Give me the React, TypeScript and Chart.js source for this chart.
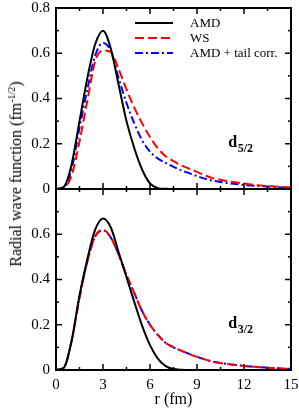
import React, { useEffect, useRef } from 'react';
import { Chart, registerables } from 'chart.js';

Chart.register(...registerables);

// radius grid (fm)
const rValues = [0, 0.5, 1, 1.5, 2, 2.5, 3, 3.5, 4, 4.5, 5, 5.5, 6, 6.5, 7, 7.5, 8, 8.5, 9, 9.5, 10, 10.5, 11, 11.5, 12, 12.5, 13, 13.5, 14, 14.5, 15];

// d5/2 panel
const d52AMD = [0, 0.01, 0.11, 0.30, 0.49, 0.64, 0.70, 0.62, 0.46, 0.30, 0.18, 0.085, 0.025, 0.004, 0.001, 0, 0, 0, 0, 0, 0, 0, 0, 0, 0, 0, 0, 0, 0, 0, 0];
const d52WS = [0, 0.005, 0.06, 0.21, 0.39, 0.565, 0.612, 0.605, 0.53, 0.44, 0.36, 0.29, 0.23, 0.18, 0.145, 0.123, 0.104, 0.09, 0.076, 0.061, 0.048, 0.041, 0.034, 0.029, 0.024, 0.02, 0.016, 0.013, 0.011, 0.009, 0.007];
const d52Tail = [0, 0.005, 0.09, 0.27, 0.44, 0.59, 0.645, 0.61, 0.49, 0.38, 0.29, 0.215, 0.165, 0.135, 0.115, 0.098, 0.082, 0.07, 0.057, 0.046, 0.037, 0.031, 0.026, 0.022, 0.018, 0.015, 0.013, 0.011, 0.009, 0.007, 0.006];

// d3/2 panel
const d32AMD = [0, 0.01, 0.13, 0.33, 0.49, 0.62, 0.67, 0.63, 0.52, 0.41, 0.30, 0.195, 0.11, 0.05, 0.017, 0.004, 0.001, 0, 0, 0, 0, 0, 0, 0, 0, 0, 0, 0, 0, 0, 0];
const d32WS = [0, 0.01, 0.13, 0.32, 0.48, 0.59, 0.62, 0.585, 0.51, 0.42, 0.34, 0.26, 0.20, 0.155, 0.12, 0.10, 0.085, 0.071, 0.058, 0.047, 0.037, 0.031, 0.026, 0.022, 0.018, 0.015, 0.012, 0.01, 0.008, 0.006, 0.005];
const d32Tail = [0, 0.01, 0.13, 0.32, 0.48, 0.59, 0.617, 0.585, 0.51, 0.42, 0.34, 0.26, 0.20, 0.155, 0.12, 0.10, 0.085, 0.071, 0.058, 0.047, 0.037, 0.031, 0.026, 0.022, 0.018, 0.015, 0.012, 0.01, 0.008, 0.006, 0.005];

const seriesNames = ['AMD', 'WS', 'AMD + tail corr.'];
const panelNames = [['d', '5/2'], ['d', '3/2']];
const xTicks = [0, 3, 6, 9, 12, 15];
const yTicks = [0, 0.2, 0.4, 0.6, 0.8];
const xTitle = 'r (fm)';

const SERIF = "'Liberation Serif', 'Times New Roman', serif";
const styles = [
  { color: '#000000', dash: [] as number[] },
  { color: '#ff0000', dash: [9, 4] },
  { color: '#0000ff', dash: [8, 3, 2, 3] },
];

const toPts = (vals: number[]) => vals.map((v, i) => ({ x: rValues[i], y: v }));

function makeDatasets(series: number[][]) {
  return series.map((vals, i) => ({
    label: seriesNames[i],
    data: toPts(vals),
    borderColor: styles[i].color,
    borderDash: styles[i].dash,
    borderWidth: 2,
    pointRadius: 0,
    fill: false,
    cubicInterpolationMode: 'monotone' as const,
  }));
}

function decorPlugin(opts: { legend: boolean; panel: string[]; xTitle: boolean }) {
  return {
    id: 'decor',
    afterDatasetsDraw(chart: any) {
      const { ctx, chartArea: a, scales } = chart;
      const xs = scales.x;
      const ys = scales.y;
      const seg = (x1: number, y1: number, x2: number, y2: number) => {
        ctx.beginPath();
        ctx.moveTo(x1, y1);
        ctx.lineTo(x2, y2);
        ctx.stroke();
      };
      ctx.save();
      ctx.strokeStyle = '#000';
      ctx.setLineDash([]);
      ctx.lineWidth = 1.5;
      for (let k = 0; k <= 10; k++) {
        const v = k * 1.5;
        const px = xs.getPixelForValue(v);
        const len = k % 2 === 0 ? 6 : 3;
        seg(px, a.bottom, px, a.bottom - len);
        seg(px, a.top, px, a.top + len);
      }
      for (let k = 0; k <= 8; k++) {
        const v = k * 0.1;
        const py = ys.getPixelForValue(v);
        const len = k % 2 === 0 ? 6 : 3;
        seg(a.left, py, a.left + len, py);
        seg(a.right, py, a.right - len, py);
      }
      ctx.lineWidth = 2;
      ctx.strokeRect(a.left, a.top, a.right - a.left, a.bottom - a.top);

      // panel label
      ctx.fillStyle = '#000';
      ctx.textBaseline = 'alphabetic';
      ctx.textAlign = 'left';
      const lx = xs.getPixelForValue(11);
      const ly = ys.getPixelForValue(0.185);
      ctx.font = `bold 16px ${SERIF}`;
      ctx.fillText(opts.panel[0], lx, ly);
      const dw = ctx.measureText(opts.panel[0]).width;
      ctx.font = `bold 12px ${SERIF}`;
      ctx.fillText(opts.panel[1], lx + dw + 0.5, ly + 5);

      if (opts.legend) {
        ctx.font = `13px ${SERIF}`;
        ctx.textBaseline = 'middle';
        chart.data.datasets.forEach((ds: any, i: number) => {
          const yy = a.top + 15 + i * 15;
          ctx.strokeStyle = ds.borderColor;
          ctx.lineWidth = 2;
          ctx.setLineDash(ds.borderDash);
          seg(a.left + 79, yy, a.left + 117, yy);
          ctx.setLineDash([]);
          ctx.fillStyle = '#000';
          ctx.fillText(ds.label, a.left + 134, yy + 0.5);
        });
      }
      if (opts.xTitle) {
        ctx.font = `16px ${SERIF}`;
        ctx.textAlign = 'center';
        ctx.textBaseline = 'middle';
        ctx.fillStyle = '#000';
        ctx.fillText(xTitle, (a.left + a.right) / 2, a.bottom + 30);
      }
      ctx.restore();
    },
  };
}

const fmt = (v: number) => (Math.abs(v) < 1e-9 ? '0' : v.toFixed(1));

const zeroPad = (s: any) => {
  s.paddingTop = 0;
  s.paddingBottom = 0;
  s.paddingLeft = 0;
  s.paddingRight = 0;
};

function Panel(props: { series: number[][]; top: number; height: number; padTop: number; padBottom: number; bottom: boolean; panel: string[]; legend: boolean }) {
  const ref = useRef<HTMLCanvasElement | null>(null);
  useEffect(() => {
    if (!ref.current) return;
    const chart = new Chart(ref.current, {
      type: 'line',
      data: { datasets: makeDatasets(props.series) as any },
      options: {
        animation: false,
        responsive: false,
        devicePixelRatio: 1,
        layout: { padding: { left: 0, right: 8, top: props.padTop, bottom: props.padBottom } },
        plugins: { legend: { display: false }, tooltip: { enabled: false } },
        scales: {
          x: {
            type: 'linear',
            min: 0,
            max: 15,
            display: props.bottom,
            afterFit: (s: any) => { s.height = props.bottom ? 40 : 0; zeroPad(s); },
            afterBuildTicks: (s: any) => { s.ticks = xTicks.map((v) => ({ value: v })); },
            grid: { display: false, drawTicks: false },
            border: { display: false },
            ticks: { padding: 6, color: '#000', font: { family: SERIF, size: 15 }, maxRotation: 0, callback: (v: any) => String(v) },
          },
          y: {
            type: 'linear',
            min: 0,
            max: 0.8,
            afterFit: (s: any) => { s.width = 56; zeroPad(s); },
            afterBuildTicks: (s: any) => { s.ticks = yTicks.filter((v) => !props.bottom || v < 0.79).map((v) => ({ value: v })); },
            grid: { display: false, drawTicks: false },
            border: { display: false },
            ticks: { padding: 6, color: '#000', font: { family: SERIF, size: 15 }, callback: (v: any) => fmt(Number(v)) },
          },
        },
      },
      plugins: [decorPlugin({ legend: props.legend, panel: props.panel, xTitle: props.bottom })],
    });
    return () => chart.destroy();
  }, []);
  return (
    <canvas
      ref={ref}
      width={299}
      height={props.height}
      style={{ position: 'absolute', left: 0, top: props.top, width: 299, height: props.height }}
    />
  );
}

export default function App() {
  return (
    <div style={{ position: 'absolute', left: 0, top: 0, width: 299, height: 410, background: '#fff', overflow: 'hidden' }}>
      <Panel series={[d52AMD, d52WS, d52Tail]} top={0} height={200} padTop={8} padBottom={11} bottom={false} panel={panelNames[0]} legend={true} />
      <Panel series={[d32AMD, d32WS, d32Tail]} top={180} height={230} padTop={9} padBottom={0} bottom={true} panel={panelNames[1]} legend={false} />
      <div
        style={{
          position: 'absolute',
          left: 16,
          top: 174,
          transform: 'translate(-50%, -50%) rotate(-90deg)',
          whiteSpace: 'nowrap',
          fontFamily: SERIF,
          fontSize: 16,
          color: '#000',
          lineHeight: '16px',
        }}
      >
        Radial wave function (fm<span style={{ fontSize: 10, verticalAlign: 'super', lineHeight: 0 }}>-1/2</span>)
      </div>
    </div>
  );
}
